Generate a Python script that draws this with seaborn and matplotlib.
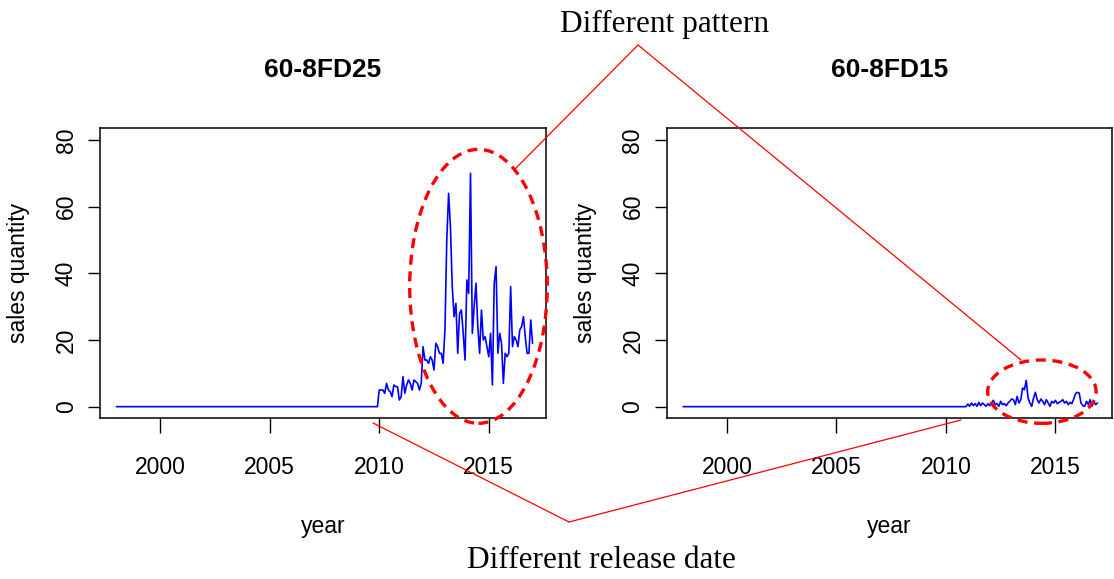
import numpy as np
import pandas as pd
import matplotlib
matplotlib.use("Agg")
import matplotlib.pyplot as plt
from matplotlib.patches import Ellipse
from matplotlib.lines import Line2D
import seaborn as sns

# ---------------- data ----------------
start_year = 1998
panel_titles = ["60-8FD25", "60-8FD15"]
zero_months = [144, 156]          # months of zero sales before release

sales_8fd25 = [5, 5, 5, 4, 7, 5, 4.5, 3, 6.5, 6, 6, 2, 3, 9, 4, 6.5, 8, 7, 5, 8,
               7.5, 7, 5, 7, 18, 14, 14, 13, 15, 14, 11, 19, 18, 16, 16, 13, 23, 50,
               64, 54, 36, 27, 31, 16, 28, 29, 22, 14, 38, 34, 70,
               22, 30, 37, 24, 16, 29, 20, 21, 18, 15, 22, 6.5, 37, 42, 16, 22, 19,
               7, 16, 15, 16, 36, 18, 21, 20, 18, 23, 24, 27, 21, 16, 16, 26, 19]

sales_8fd15 = [0.8, 0.1, 1.1, 0.3, 0.9, 0.1, 1.3, 0.3, 1.1, 0.6,
               0.1, 0.9, 0.3, 1.1, 1.9, 0.6, 0.9, 0.1, 1.6, 0.6,
               0.9, 0.3, 1.1, 1.6, 2.3, 2.1, 0.6, 3.1, 1.1, 2.1,
               5.6, 5.1, 7.9, 2.6, 1.1, 0.1, 2.6, 4.3, 2.1, 1.1,
               2.3, 1.6, 0.6, 2.1, 1.1, 0.1, 1.6, 1.1, 1.9, 0.9,
               1.3, 1.6, 2.1, 1.1, 1.6, 0.6, 1.3, 0.9, 2.3, 3.9,
               4.3, 4.1, 1.1, 0.3, 0.1, 1.6, 0.6, 2.1, 0.1, 1.6,
               0.6, 1.1]

x_ticks = [2000, 2005, 2010, 2015]
y_ticks = [0, 20, 40, 60, 80]
x_label = "year"
y_label = "sales quantity"
note_top = "Different pattern"
note_bottom = "Different release date"

# ---------------- style ----------------
sns.set_style("white")
sans = ["Liberation Sans Narrow", "Liberation Sans", "DejaVu Sans"]
plt.rcParams["font.family"] = sans
for k in ["text.color", "axes.labelcolor", "xtick.color", "ytick.color"]:
    plt.rcParams[k] = "black"

W, H = 1114, 579
fig = plt.figure(figsize=(W / 100, H / 100), dpi=100)

def fx(x):
    return x / W

def fy(y):
    return 1 - y / H

ax_w, ax_h = 445.7 / W, 289.7 / H
axL = fig.add_axes([fx(100), fy(418), ax_w, ax_h])
axR = fig.add_axes([fx(666.7), fy(418), ax_w, ax_h])

series = [sales_8fd25, sales_8fd15]
for ax, title, nz, vals in zip([axL, axR], panel_titles, zero_months, series):
    y = np.concatenate([np.zeros(nz), np.asarray(vals, dtype=float)])
    t = start_year + np.arange(len(y)) / 12.0
    df = pd.DataFrame({"year": t, "sales": y})
    sns.lineplot(data=df, x="year", y="sales", ax=ax, color="#0000ff", lw=1.2)
    ax.set_xlim(1997.25, 2017.6)
    ax.set_ylim(-3.4, 83.5)
    ax.set_xticks(x_ticks)
    ax.set_xticklabels([str(v) for v in x_ticks], fontsize=16.5)
    ax.set_yticks(y_ticks)
    ax.set_yticklabels([str(v) for v in y_ticks], fontsize=16.5, rotation=90, va="center")
    ax.tick_params(axis="x", direction="out", length=11, width=1, pad=16, color="black")
    ax.tick_params(axis="y", direction="out", length=9, width=1, pad=7, color="black")
    ax.tick_params(left=True, bottom=True)
    for s in ax.spines.values():
        s.set_visible(True)
        s.set_color("black")
        s.set_linewidth(1.1)
    ax.set_xlabel(x_label, fontsize=16.5)
    ax.set_ylabel(y_label, fontsize=16.5)
    ax.xaxis.set_label_coords(0.5, -0.375)
    ax.yaxis.set_label_coords(-0.183, 0.5)
    ax.xaxis.label.set_va("center")
    ax.yaxis.label.set_va("center")
    ax.text(0.5, (418 - 70) / 289.7, title, transform=ax.transAxes, ha="center",
            va="center", fontsize=19, fontweight="bold")
    ax.grid(False)

# ---------------- annotations ----------------
red = "#ff0000"
axL.add_patch(Ellipse((2014.53, 36.1), 6.28, 82.2, fill=False, ec=red, lw=2.4,
                      ls=(0, (3, 2)), clip_on=False, zorder=5))
axR.add_patch(Ellipse((2014.38, 4.5), 4.95, 19.0, fill=False, ec=red, lw=2.4,
                      ls=(0, (3, 2)), clip_on=False, zorder=5))

def seg(p, q):
    fig.add_artist(Line2D([fx(p[0]), fx(q[0])], [fy(p[1]), fy(q[1])],
                          color=red, lw=0.9, transform=fig.transFigure, zorder=6))

seg((515, 169), (638, 45))
seg((638, 45), (1021, 360))
seg((373, 423), (569, 522))
seg((569, 522), (961, 420))

serif = ["Liberation Serif", "DejaVu Serif"]
fig.text(fx(665), fy(24), note_top, ha="center", va="center", fontsize=22.5,
         family=serif, color="black")
fig.text(fx(601), fy(560), note_bottom, ha="center", va="center", fontsize=22.5,
         family=serif, color="black")

fig.savefig("out.png", dpi=100, facecolor="white")
